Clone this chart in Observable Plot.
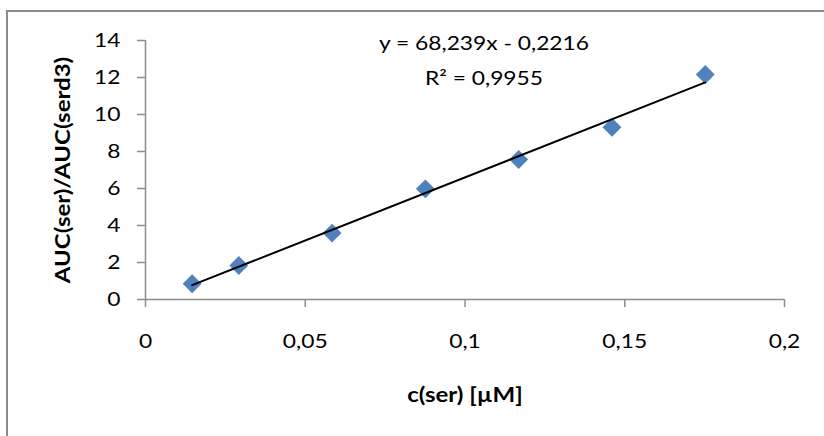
<!DOCTYPE html>
<html>
<head>
<meta charset="utf-8">
<script src="https://cdn.jsdelivr.net/npm/d3@7"></script>
<script src="https://cdn.jsdelivr.net/npm/@observablehq/plot@0.6"></script>
<style>
  html, body { margin: 0; padding: 0; background: #fff; }
  #chart { position: relative; width: 824px; height: 436px; overflow: hidden; }
  #chart svg { position: absolute; left: 0; top: 0; }
  #border {
    position: absolute; left: 6px; top: 10px; width: 900px; height: 500px;
    border: 2px solid #8c8c8c; box-sizing: border-box; pointer-events: none;
  }
</style>
</head>
<body>
<div id="chart"><div id="border"></div></div>
<script>
// Serine calibration: concentration vs. peak-area ratio to the d3-labelled standard
const concentration = [0.0146, 0.0292, 0.0584, 0.0876, 0.1168, 0.146, 0.1752];
const aucRatio = [0.85, 1.84, 3.59, 5.98, 7.57, 9.31, 12.16];
const xTicks = [0, 0.05, 0.1, 0.15, 0.2];
const yTicks = [0, 2, 4, 6, 8, 10, 12, 14];
// Linear trendline coefficients
const slope = 68.239;
const intercept = -0.2216;
const rSquared = 0.9955;
const xTitle = "c(ser) [µM]";
const yTitle = "AUC(ser)/AUC(serd3)";

const comma = v => String(v).replace(".", ",");
const points = concentration.map((c, i) => ({c, r: aucRatio[i]}));
const trend = d3.extent(concentration).map(c => ({c, r: slope * c + intercept}));
const equation = `y = ${comma(slope)}x - ${comma(Math.abs(intercept))}\nR² = ${comma(rSquared)}`;

const axisColor = "#8c8c8c";
const font = "Lato, 'Open Sans', sans-serif";
const stretch = 1.2;

const chart = Plot.plot({
  width: 824,
  height: 436,
  marginLeft: 145,
  marginRight: 40,
  marginTop: 40,
  marginBottom: 137,
  style: {fontFamily: font, fontSize: "19px", color: "#000", background: "transparent"},
  x: {domain: [0, 0.2], label: null},
  y: {domain: [0, 14], label: null},
  marks: [
    Plot.ruleY([0], {stroke: axisColor, strokeWidth: 1.5}),
    Plot.ruleX([0], {stroke: axisColor, strokeWidth: 1.5}),
    Plot.axisX(xTicks, {tickSize: 8, tickPadding: 27, stroke: axisColor, strokeWidth: 1.5, fill: "#000", tickFormat: comma, label: null, fontSize: 19}),
    Plot.axisY(yTicks, {tickSize: 8, tickPadding: 17, stroke: axisColor, strokeWidth: 1.5, fill: "#000", label: null, fontSize: 19}),
    Plot.dot(points, {x: "c", y: "r", symbol: "diamond2", r: 8.5, fill: "#4F81BD", stroke: "none"}),
    Plot.line(trend, {x: "c", y: "r", stroke: "#000", strokeWidth: 2}),
    Plot.text([equation], {frameAnchor: "top", textAnchor: "middle", lineAnchor: "top", dx: 19, dy: -15, lineHeight: 1.84, fontSize: 19, fill: "#000"}),
    Plot.text([xTitle], {frameAnchor: "bottom", textAnchor: "middle", lineAnchor: "top", dy: 88, fontSize: 20, fontWeight: "bold", fill: "#000"}),
    Plot.text([yTitle], {frameAnchor: "left", textAnchor: "middle", lineAnchor: "middle", rotate: -90, dx: -82, fontSize: 20, fontWeight: "bold", fill: "#000"})
  ]
});

// Widen the glyphs horizontally about each label's own anchor point
chart.querySelectorAll("text").forEach(el => {
  const xa = el.getAttribute("x");
  if (xa !== null && isFinite(+xa)) el.setAttribute("x", +xa / stretch);
  const t = el.getAttribute("transform") || "";
  el.setAttribute("transform", `${t} scale(${stretch},1)`);
});

document.getElementById("chart").prepend(chart);
</script>
</body>
</html>
